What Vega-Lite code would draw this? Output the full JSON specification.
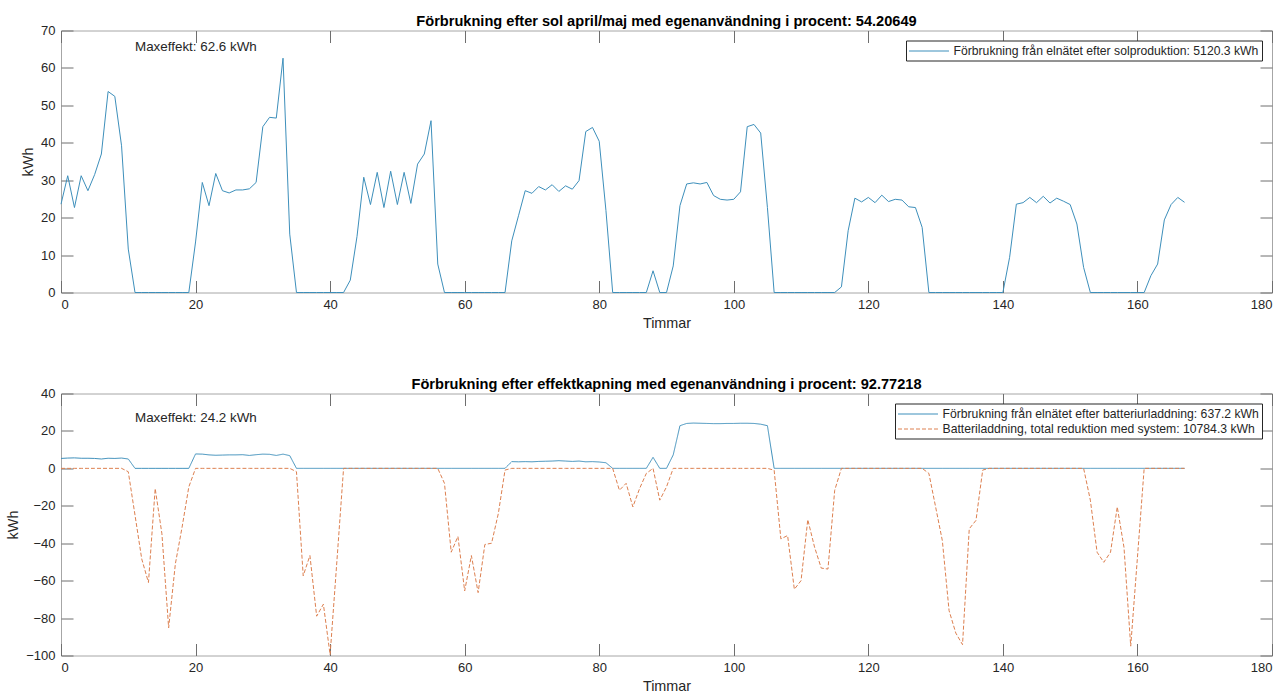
{
"$schema": "https://vega.github.io/schema/vega-lite/v6.json",
"background": "white",
"padding": {"left": 5, "top": 13.5, "right": 0, "bottom": 0},
"config": {
  "view": {"stroke": "#a6a6a6", "strokeWidth": 1},
  "axis": {"grid": false, "domain": false, "offset": -12, "tickSize": 12, "tickColor": "#6e6e6e", "tickWidth": 1, "minExtent": 0,
    "labelFont": "Liberation Sans", "labelFontSize": 13, "labelColor": "#262626",
    "titleFont": "Liberation Sans", "titleFontSize": 14.4, "titleFontWeight": "normal", "titleColor": "#262626", "titlePadding": 5},
  "axisX": {"labelPadding": 6, "minExtent": 0},
  "axisY": {"labelPadding": 6, "minExtent": 0},
  "title": {"font": "Liberation Sans", "fontSize": 14.6, "fontWeight": "bold", "color": "#000000", "offset": -4.5},
  "legend": {"orient": "top-right", "offset": 10, "fillColor": "white", "strokeColor": "#262626", "padding": 3,
    "labelFont": "Liberation Sans", "labelFontSize": 12.2, "labelColor": "#262626", "labelLimit": 600,
    "symbolType": "M-2.857,0H2.857", "symbolSize": 196, "symbolStrokeWidth": 1, "symbolOffset": 12.5, "labelOffset": 17, "rowPadding": 1, "title": null}
},
"datasets": {
  "top": [
{"h":0,"v":23.6},{"h":1,"v":31.2},{"h":2,"v":22.7},{"h":3,"v":31.2},{"h":4,"v":27.2},{"h":5,"v":31.5},{"h":6,"v":37},{"h":7,"v":53.7},{"h":8,"v":52.4},{"h":9,"v":39.2},{"h":10,"v":11.6},
{"h":11,"v":0},{"h":12,"v":0},{"h":13,"v":0},{"h":14,"v":0},{"h":15,"v":0},{"h":16,"v":0},{"h":17,"v":0},{"h":18,"v":0},{"h":19,"v":0},
{"h":20,"v":13.5},{"h":21,"v":29.4},{"h":22,"v":23.2},{"h":23,"v":31.8},{"h":24,"v":27.2},{"h":25,"v":26.6},{"h":26,"v":27.4},{"h":27,"v":27.4},{"h":28,"v":27.7},{"h":29,"v":29.4},{"h":30,"v":44.3},{"h":31,"v":46.8},{"h":32,"v":46.6},{"h":33,"v":62.6},{"h":34,"v":15.6},
{"h":35,"v":0},{"h":36,"v":0},{"h":37,"v":0},{"h":38,"v":0},{"h":39,"v":0},{"h":40,"v":0},{"h":41,"v":0},{"h":42,"v":0},
{"h":43,"v":3.3},{"h":44,"v":15},{"h":45,"v":30.8},{"h":46,"v":23.5},{"h":47,"v":32.1},{"h":48,"v":22.7},{"h":49,"v":32.4},{"h":50,"v":23.5},{"h":51,"v":32.1},{"h":52,"v":23.8},{"h":53,"v":34.3},{"h":54,"v":37},{"h":55,"v":45.9},{"h":56,"v":7.6},
{"h":57,"v":0},{"h":58,"v":0},{"h":59,"v":0},{"h":60,"v":0},{"h":61,"v":0},{"h":62,"v":0},{"h":63,"v":0},{"h":64,"v":0},{"h":65,"v":0},{"h":66,"v":0},
{"h":67,"v":13.8},{"h":68,"v":20.5},{"h":69,"v":27.2},{"h":70,"v":26.5},{"h":71,"v":28.3},{"h":72,"v":27.4},{"h":73,"v":28.8},{"h":74,"v":27},{"h":75,"v":28.5},{"h":76,"v":27.6},{"h":77,"v":29.9},{"h":78,"v":43},{"h":79,"v":44.1},{"h":80,"v":40.4},{"h":81,"v":21.9},
{"h":82,"v":0},{"h":83,"v":0},{"h":84,"v":0},{"h":85,"v":0},{"h":86,"v":0},{"h":87,"v":0},{"h":88,"v":5.8},{"h":89,"v":0},{"h":90,"v":0},
{"h":91,"v":7.1},{"h":92,"v":23.2},{"h":93,"v":29},{"h":94,"v":29.3},{"h":95,"v":29},{"h":96,"v":29.4},{"h":97,"v":25.9},{"h":98,"v":24.9},{"h":99,"v":24.7},{"h":100,"v":24.9},{"h":101,"v":26.9},{"h":102,"v":44.3},{"h":103,"v":44.9},{"h":104,"v":42.6},{"h":105,"v":22.7},
{"h":106,"v":0},{"h":107,"v":0},{"h":108,"v":0},{"h":109,"v":0},{"h":110,"v":0},{"h":111,"v":0},{"h":112,"v":0},{"h":113,"v":0},{"h":114,"v":0},{"h":115,"v":0},
{"h":116,"v":1.5},{"h":117,"v":16.5},{"h":118,"v":25.2},{"h":119,"v":24.2},{"h":120,"v":25.4},{"h":121,"v":24},{"h":122,"v":26},{"h":123,"v":24.3},{"h":124,"v":24.9},{"h":125,"v":24.7},{"h":126,"v":22.9},{"h":127,"v":22.7},{"h":128,"v":17.4},
{"h":129,"v":0},{"h":130,"v":0},{"h":131,"v":0},{"h":132,"v":0},{"h":133,"v":0},{"h":134,"v":0},{"h":135,"v":0},{"h":136,"v":0},{"h":137,"v":0},{"h":138,"v":0},{"h":139,"v":0},{"h":140,"v":0},
{"h":141,"v":9.4},{"h":142,"v":23.6},{"h":143,"v":24},{"h":144,"v":25.4},{"h":145,"v":24},{"h":146,"v":25.7},{"h":147,"v":23.9},{"h":148,"v":25.2},{"h":149,"v":24.4},{"h":150,"v":23.5},{"h":151,"v":18.3},{"h":152,"v":6.7},
{"h":153,"v":0},{"h":154,"v":0},{"h":155,"v":0},{"h":156,"v":0},{"h":157,"v":0},{"h":158,"v":0},{"h":159,"v":0},{"h":160,"v":0},{"h":161,"v":0},
{"h":162,"v":4.5},{"h":163,"v":7.6},{"h":164,"v":19.4},{"h":165,"v":23.5},{"h":166,"v":25.4},{"h":167,"v":24.1}
  ],
  "bot": [
{"h":0,"s":"A","v":5.3},{"h":1,"s":"A","v":5.5},{"h":2,"s":"A","v":5.6},{"h":3,"s":"A","v":5.4},{"h":4,"s":"A","v":5.4},{"h":5,"s":"A","v":5.3},{"h":6,"s":"A","v":5.0},{"h":7,"s":"A","v":5.4},{"h":8,"s":"A","v":5.3},{"h":9,"s":"A","v":5.5},{"h":10,"s":"A","v":5.0},
{"h":11,"s":"A","v":0},{"h":12,"s":"A","v":0},{"h":13,"s":"A","v":0},{"h":14,"s":"A","v":0},{"h":15,"s":"A","v":0},{"h":16,"s":"A","v":0},{"h":17,"s":"A","v":0},{"h":18,"s":"A","v":0},{"h":19,"s":"A","v":0},
{"h":20,"s":"A","v":7.7},{"h":21,"s":"A","v":7.6},{"h":22,"s":"A","v":7.2},{"h":23,"s":"A","v":7.0},{"h":24,"s":"A","v":7.1},{"h":25,"s":"A","v":7.2},{"h":26,"s":"A","v":7.2},{"h":27,"s":"A","v":7.3},{"h":28,"s":"A","v":6.9},{"h":29,"s":"A","v":7.3},{"h":30,"s":"A","v":7.6},{"h":31,"s":"A","v":7.5},{"h":32,"s":"A","v":6.9},{"h":33,"s":"A","v":7.6},{"h":34,"s":"A","v":6.8},
{"h":35,"s":"A","v":0},{"h":36,"s":"A","v":0},{"h":37,"s":"A","v":0},{"h":38,"s":"A","v":0},{"h":39,"s":"A","v":0},{"h":40,"s":"A","v":0},{"h":41,"s":"A","v":0},{"h":42,"s":"A","v":0},{"h":43,"s":"A","v":0},{"h":44,"s":"A","v":0},{"h":45,"s":"A","v":0},{"h":46,"s":"A","v":0},{"h":47,"s":"A","v":0},{"h":48,"s":"A","v":0},{"h":49,"s":"A","v":0},{"h":50,"s":"A","v":0},{"h":51,"s":"A","v":0},{"h":52,"s":"A","v":0},{"h":53,"s":"A","v":0},{"h":54,"s":"A","v":0},{"h":55,"s":"A","v":0},{"h":56,"s":"A","v":0},{"h":57,"s":"A","v":0},{"h":58,"s":"A","v":0},{"h":59,"s":"A","v":0},{"h":60,"s":"A","v":0},{"h":61,"s":"A","v":0},{"h":62,"s":"A","v":0},{"h":63,"s":"A","v":0},{"h":64,"s":"A","v":0},{"h":65,"s":"A","v":0},{"h":66,"s":"A","v":0},
{"h":67,"s":"A","v":3.6},{"h":68,"s":"A","v":3.5},{"h":69,"s":"A","v":3.6},{"h":70,"s":"A","v":3.5},{"h":71,"s":"A","v":3.7},{"h":72,"s":"A","v":3.8},{"h":73,"s":"A","v":3.9},{"h":74,"s":"A","v":4.1},{"h":75,"s":"A","v":3.9},{"h":76,"s":"A","v":3.7},{"h":77,"s":"A","v":3.9},{"h":78,"s":"A","v":3.5},{"h":79,"s":"A","v":3.6},{"h":80,"s":"A","v":3.4},{"h":81,"s":"A","v":3.0},
{"h":82,"s":"A","v":0},{"h":83,"s":"A","v":0},{"h":84,"s":"A","v":0},{"h":85,"s":"A","v":0},{"h":86,"s":"A","v":0},{"h":87,"s":"A","v":0},{"h":88,"s":"A","v":5.9},{"h":89,"s":"A","v":0},{"h":90,"s":"A","v":0},
{"h":91,"s":"A","v":7.2},{"h":92,"s":"A","v":22.8},{"h":93,"s":"A","v":24.0},{"h":94,"s":"A","v":24.2},{"h":95,"s":"A","v":24.1},{"h":96,"s":"A","v":24.0},{"h":97,"s":"A","v":23.9},{"h":98,"s":"A","v":23.9},{"h":99,"s":"A","v":24.0},{"h":100,"s":"A","v":24.0},{"h":101,"s":"A","v":24.1},{"h":102,"s":"A","v":24.1},{"h":103,"s":"A","v":24.0},{"h":104,"s":"A","v":23.6},{"h":105,"s":"A","v":22.8},
{"h":106,"s":"A","v":0},{"h":107,"s":"A","v":0},{"h":108,"s":"A","v":0},{"h":109,"s":"A","v":0},{"h":110,"s":"A","v":0},{"h":111,"s":"A","v":0},{"h":112,"s":"A","v":0},{"h":113,"s":"A","v":0},{"h":114,"s":"A","v":0},{"h":115,"s":"A","v":0},{"h":116,"s":"A","v":0},{"h":117,"s":"A","v":0},{"h":118,"s":"A","v":0},{"h":119,"s":"A","v":0},{"h":120,"s":"A","v":0},{"h":121,"s":"A","v":0},{"h":122,"s":"A","v":0},{"h":123,"s":"A","v":0},{"h":124,"s":"A","v":0},{"h":125,"s":"A","v":0},{"h":126,"s":"A","v":0},{"h":127,"s":"A","v":0},{"h":128,"s":"A","v":0},{"h":129,"s":"A","v":0},{"h":130,"s":"A","v":0},{"h":131,"s":"A","v":0},{"h":132,"s":"A","v":0},{"h":133,"s":"A","v":0},{"h":134,"s":"A","v":0},{"h":135,"s":"A","v":0},{"h":136,"s":"A","v":0},{"h":137,"s":"A","v":0},{"h":138,"s":"A","v":0},{"h":139,"s":"A","v":0},{"h":140,"s":"A","v":0},{"h":141,"s":"A","v":0},{"h":142,"s":"A","v":0},{"h":143,"s":"A","v":0},{"h":144,"s":"A","v":0},{"h":145,"s":"A","v":0},{"h":146,"s":"A","v":0},{"h":147,"s":"A","v":0},{"h":148,"s":"A","v":0},{"h":149,"s":"A","v":0},{"h":150,"s":"A","v":0},{"h":151,"s":"A","v":0},{"h":152,"s":"A","v":0},{"h":153,"s":"A","v":0},{"h":154,"s":"A","v":0},{"h":155,"s":"A","v":0},{"h":156,"s":"A","v":0},{"h":157,"s":"A","v":0},{"h":158,"s":"A","v":0},{"h":159,"s":"A","v":0},{"h":160,"s":"A","v":0},{"h":161,"s":"A","v":0},{"h":162,"s":"A","v":0},{"h":163,"s":"A","v":0},{"h":164,"s":"A","v":0},{"h":165,"s":"A","v":0},{"h":166,"s":"A","v":0},{"h":167,"s":"A","v":0},
{"h":0,"s":"B","v":0},{"h":1,"s":"B","v":0},{"h":2,"s":"B","v":0},{"h":3,"s":"B","v":0},{"h":4,"s":"B","v":0},{"h":5,"s":"B","v":0},{"h":6,"s":"B","v":0},{"h":7,"s":"B","v":0},{"h":8,"s":"B","v":0},{"h":9,"s":"B","v":0},
{"h":10,"s":"B","v":-1.8},{"h":11,"s":"B","v":-25},{"h":12,"s":"B","v":-48.4},{"h":13,"s":"B","v":-61},{"h":14,"s":"B","v":-10.8},{"h":15,"s":"B","v":-35},{"h":16,"s":"B","v":-85.2},{"h":17,"s":"B","v":-51},{"h":18,"s":"B","v":-31.4},{"h":19,"s":"B","v":-9.9},
{"h":20,"s":"B","v":0},{"h":21,"s":"B","v":0},{"h":22,"s":"B","v":0},{"h":23,"s":"B","v":0},{"h":24,"s":"B","v":0},{"h":25,"s":"B","v":0},{"h":26,"s":"B","v":0},{"h":27,"s":"B","v":0},{"h":28,"s":"B","v":0},{"h":29,"s":"B","v":0},{"h":30,"s":"B","v":0},{"h":31,"s":"B","v":0},{"h":32,"s":"B","v":0},{"h":33,"s":"B","v":0},{"h":34,"s":"B","v":0},
{"h":35,"s":"B","v":-1.8},{"h":36,"s":"B","v":-57.4},{"h":37,"s":"B","v":-46.6},{"h":38,"s":"B","v":-79},{"h":39,"s":"B","v":-72.6},{"h":40,"s":"B","v":-99.6},{"h":41,"s":"B","v":-50},
{"h":42,"s":"B","v":0},{"h":43,"s":"B","v":0},{"h":44,"s":"B","v":0},{"h":45,"s":"B","v":0},{"h":46,"s":"B","v":0},{"h":47,"s":"B","v":0},{"h":48,"s":"B","v":0},{"h":49,"s":"B","v":0},{"h":50,"s":"B","v":0},{"h":51,"s":"B","v":0},{"h":52,"s":"B","v":0},{"h":53,"s":"B","v":0},{"h":54,"s":"B","v":0},{"h":55,"s":"B","v":0},{"h":56,"s":"B","v":0},
{"h":57,"s":"B","v":-8},{"h":58,"s":"B","v":-44.8},{"h":59,"s":"B","v":-36.4},{"h":60,"s":"B","v":-65.5},{"h":61,"s":"B","v":-46.6},{"h":62,"s":"B","v":-66.4},{"h":63,"s":"B","v":-40.7},{"h":64,"s":"B","v":-40},{"h":65,"s":"B","v":-24.2},{"h":66,"s":"B","v":-0.9},
{"h":67,"s":"B","v":0},{"h":68,"s":"B","v":0},{"h":69,"s":"B","v":0},{"h":70,"s":"B","v":0},{"h":71,"s":"B","v":0},{"h":72,"s":"B","v":0},{"h":73,"s":"B","v":0},{"h":74,"s":"B","v":0},{"h":75,"s":"B","v":0},{"h":76,"s":"B","v":0},{"h":77,"s":"B","v":0},{"h":78,"s":"B","v":0},{"h":79,"s":"B","v":0},{"h":80,"s":"B","v":0},{"h":81,"s":"B","v":0},{"h":82,"s":"B","v":0},
{"h":83,"s":"B","v":-11.7},{"h":84,"s":"B","v":-8},{"h":85,"s":"B","v":-20.6},{"h":86,"s":"B","v":-10.8},{"h":87,"s":"B","v":-2.7},{"h":88,"s":"B","v":0},{"h":89,"s":"B","v":-17},{"h":90,"s":"B","v":-9.9},
{"h":91,"s":"B","v":0},{"h":92,"s":"B","v":0},{"h":93,"s":"B","v":0},{"h":94,"s":"B","v":0},{"h":95,"s":"B","v":0},{"h":96,"s":"B","v":0},{"h":97,"s":"B","v":0},{"h":98,"s":"B","v":0},{"h":99,"s":"B","v":0},{"h":100,"s":"B","v":0},{"h":101,"s":"B","v":0},{"h":102,"s":"B","v":0},{"h":103,"s":"B","v":0},{"h":104,"s":"B","v":0},{"h":105,"s":"B","v":0},
{"h":106,"s":"B","v":-1},{"h":107,"s":"B","v":-37.7},{"h":108,"s":"B","v":-35.9},{"h":109,"s":"B","v":-64.6},{"h":110,"s":"B","v":-60},{"h":111,"s":"B","v":-27.4},{"h":112,"s":"B","v":-42},{"h":113,"s":"B","v":-53.3},{"h":114,"s":"B","v":-53.8},{"h":115,"s":"B","v":-11.7},
{"h":116,"s":"B","v":0},{"h":117,"s":"B","v":0},{"h":118,"s":"B","v":0},{"h":119,"s":"B","v":0},{"h":120,"s":"B","v":0},{"h":121,"s":"B","v":0},{"h":122,"s":"B","v":0},{"h":123,"s":"B","v":0},{"h":124,"s":"B","v":0},{"h":125,"s":"B","v":0},{"h":126,"s":"B","v":0},{"h":127,"s":"B","v":0},{"h":128,"s":"B","v":0},
{"h":129,"s":"B","v":-2.7},{"h":130,"s":"B","v":-20.6},{"h":131,"s":"B","v":-38.6},{"h":132,"s":"B","v":-76},{"h":133,"s":"B","v":-88},{"h":134,"s":"B","v":-94.2},{"h":135,"s":"B","v":-32.3},{"h":136,"s":"B","v":-27.8},{"h":137,"s":"B","v":-0.9},
{"h":138,"s":"B","v":0},{"h":139,"s":"B","v":0},{"h":140,"s":"B","v":0},{"h":141,"s":"B","v":0},{"h":142,"s":"B","v":0},{"h":143,"s":"B","v":0},{"h":144,"s":"B","v":0},{"h":145,"s":"B","v":0},{"h":146,"s":"B","v":0},{"h":147,"s":"B","v":0},{"h":148,"s":"B","v":0},{"h":149,"s":"B","v":0},{"h":150,"s":"B","v":0},{"h":151,"s":"B","v":0},{"h":152,"s":"B","v":0},
{"h":153,"s":"B","v":-17},{"h":154,"s":"B","v":-44.8},{"h":155,"s":"B","v":-50.2},{"h":156,"s":"B","v":-44.8},{"h":157,"s":"B","v":-20.6},{"h":158,"s":"B","v":-42.2},{"h":159,"s":"B","v":-95},{"h":160,"s":"B","v":-47.5},
{"h":161,"s":"B","v":0},{"h":162,"s":"B","v":0},{"h":163,"s":"B","v":0},{"h":164,"s":"B","v":0},{"h":165,"s":"B","v":0},{"h":166,"s":"B","v":0},{"h":167,"s":"B","v":0}
  ]
},
"spacing": 46,
"resolve": {"scale": {"color": "independent", "strokeDash": "independent"}, "legend": {"color": "independent", "strokeDash": "independent"}},
"vconcat": [
  {
    "width": 1211, "height": 262,
    "title": {"text": "Förbrukning efter sol april/maj med egenanvändning i procent: 54.20649"},
    "layer": [
      {"data": {"name": "top"},
       "mark": {"type": "line", "strokeWidth": 1},
       "encoding": {
         "x": {"field": "h", "type": "quantitative", "scale": {"domain": [0, 180], "nice": false, "zero": false}, "axis": {"values": [0,20,40,60,80,100,120,140,160,180], "title": "Timmar"}},
         "y": {"field": "v", "type": "quantitative", "scale": {"domain": [0, 70], "nice": false}, "axis": {"values": [0,10,20,30,40,50,60,70], "title": "kWh"}},
         "color": {"datum": "Förbrukning från elnätet efter solproduktion: 5120.3 kWh", "type": "nominal", "scale": {"range": ["#3d8fbb"]}, "legend": {"title": null}}
       }},
      {"data": {"values": [{"h": 11, "v": 65.5, "t": "Maxeffekt: 62.6 kWh"}]},
       "mark": {"type": "text", "align": "left", "baseline": "middle", "font": "Liberation Sans", "fontSize": 13.4, "color": "#262626"},
       "encoding": {
         "x": {"field": "h", "type": "quantitative", "axis": {"orient": "top", "labels": false, "title": null, "values": [0,20,40,60,80,100,120,140,160,180]}},
         "y": {"field": "v", "type": "quantitative", "axis": {"orient": "right", "labels": false, "title": null, "values": [0,10,20,30,40,50,60,70]}},
         "text": {"field": "t"}
       }}
    ],
    "resolve": {"axis": {"x": "independent", "y": "independent"}}
  },
  {
    "width": 1211, "height": 262,
    "title": {"text": "Förbrukning efter effektkapning med egenanvändning i procent: 92.77218"},
    "layer": [
      {"data": {"name": "bot"},
       "mark": {"type": "line", "strokeWidth": 1},
       "encoding": {
         "x": {"field": "h", "type": "quantitative", "scale": {"domain": [0, 180], "nice": false, "zero": false}, "axis": {"values": [0,20,40,60,80,100,120,140,160,180], "title": "Timmar"}},
         "y": {"field": "v", "type": "quantitative", "scale": {"domain": [-100, 40], "nice": false, "zero": false}, "axis": {"values": [-100,-80,-60,-40,-20,0,20,40], "title": "kWh"}},
         "color": {"field": "s", "type": "nominal", "scale": {"domain": ["A", "B"], "range": ["#3d8fbb", "#dd8050"]},
           "legend": {"title": null, "labelExpr": "datum.label == 'A' ? 'Förbrukning från elnätet efter batteriurladdning: 637.2 kWh' : 'Batteriladdning, total reduktion med system: 10784.3 kWh'"}},
         "strokeDash": {"field": "s", "type": "nominal", "scale": {"domain": ["A", "B"], "range": [[1, 0], [4, 2]]},
           "legend": {"title": null, "labelExpr": "datum.label == 'A' ? 'Förbrukning från elnätet efter batteriurladdning: 637.2 kWh' : 'Batteriladdning, total reduktion med system: 10784.3 kWh'"}}
       }},
      {"data": {"values": [{"h": 11, "v": 27, "t": "Maxeffekt: 24.2 kWh"}]},
       "mark": {"type": "text", "align": "left", "baseline": "middle", "font": "Liberation Sans", "fontSize": 13.4, "color": "#262626"},
       "encoding": {
         "x": {"field": "h", "type": "quantitative", "axis": {"orient": "top", "labels": false, "title": null, "values": [0,20,40,60,80,100,120,140,160,180]}},
         "y": {"field": "v", "type": "quantitative", "axis": {"orient": "right", "labels": false, "title": null, "values": [-100,-80,-60,-40,-20,0,20,40]}},
         "text": {"field": "t"}
       }}
    ],
    "resolve": {"axis": {"x": "independent", "y": "independent"}}
  }
]
}
